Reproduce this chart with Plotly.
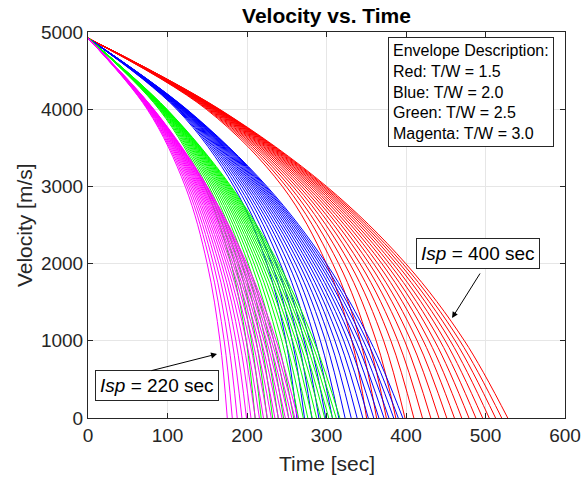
import plotly.graph_objects as go

# Velocity levels (m/s) at which each burn curve is sampled
v_levels = [4920, 4000, 3000, 2000, 1000, 0]

isp_values = [220, 230, 240, 250, 260, 270, 280, 290, 300, 310,
              320, 330, 340, 350, 360, 370, 380, 390, 400]

tw_ratios = [1.5, 2.0, 2.5, 3.0]
family_colors = ["#ff0000", "#0000ff", "#00ff00", "#ff00ff"]

# Time (s) at which velocity reaches 4000, 3000, 2000, 1000 and 0 m/s, one row per Isp
red_times = [
    [148.7, 244.5, 299.8, 331.9, 350.4],
    [150.2, 249.2, 307.8, 342.5, 363.0],
    [151.6, 253.6, 315.3, 352.6, 375.3],
    [152.9, 257.8, 322.5, 362.5, 387.2],
    [154.1, 261.7, 329.3, 371.9, 398.7],
    [155.3, 265.4, 335.9, 381.0, 409.9],
    [156.4, 268.9, 342.1, 389.7, 420.7],
    [157.4, 272.3, 348.1, 398.2, 431.2],
    [158.3, 275.4, 353.8, 406.3, 441.4],
    [159.2, 278.4, 359.3, 414.1, 451.3],
    [160.0, 281.3, 364.5, 421.7, 460.9],
    [160.8, 284.0, 369.6, 428.9, 470.1],
    [161.6, 286.6, 374.4, 436.0, 479.2],
    [162.3, 289.1, 379.0, 442.8, 487.9],
    [163.0, 291.5, 383.5, 449.3, 496.4],
    [163.6, 293.8, 387.8, 455.7, 504.7],
    [164.2, 296.0, 391.9, 461.8, 512.7],
    [164.8, 298.0, 395.9, 467.7, 520.4],
    [165.4, 300.0, 399.7, 473.5, 528.0],
]

blue_times = [
    [111.5, 183.4, 224.9, 248.9, 262.8],
    [112.7, 186.9, 230.9, 256.9, 272.3],
    [113.7, 190.2, 236.5, 264.5, 281.5],
    [114.7, 193.4, 241.9, 271.9, 290.4],
    [115.6, 196.3, 247.0, 278.9, 299.0],
    [116.5, 199.1, 251.9, 285.8, 307.4],
    [117.3, 201.7, 256.6, 292.3, 315.5],
    [118.1, 204.2, 261.1, 298.7, 323.4],
    [118.7, 206.6, 265.4, 304.7, 331.1],
    [119.4, 208.8, 269.5, 310.6, 338.5],
    [120.0, 211.0, 273.4, 316.3, 345.7],
    [120.6, 213.0, 277.2, 321.7, 352.6],
    [121.2, 215.0, 280.8, 327.0, 359.4],
    [121.7, 216.8, 284.3, 332.1, 365.9],
    [122.3, 218.6, 287.6, 337.0, 372.3],
    [122.7, 220.4, 290.9, 341.8, 378.5],
    [123.2, 222.0, 293.9, 346.4, 384.5],
    [123.6, 223.5, 296.9, 350.8, 390.3],
    [124.1, 225.0, 299.8, 355.1, 396.0],
]

green_times = [
    [89.2, 146.7, 179.9, 199.1, 210.2],
    [90.1, 149.5, 184.7, 205.5, 217.8],
    [91.0, 152.2, 189.2, 211.6, 225.2],
    [91.7, 154.7, 193.5, 217.5, 232.3],
    [92.5, 157.0, 197.6, 223.1, 239.2],
    [93.2, 159.2, 201.5, 228.6, 245.9],
    [93.8, 161.3, 205.3, 233.8, 252.4],
    [94.4, 163.4, 208.9, 238.9, 258.7],
    [95.0, 165.2, 212.3, 243.8, 264.8],
    [95.5, 167.0, 215.6, 248.5, 270.8],
    [96.0, 168.8, 218.7, 253.0, 276.5],
    [96.5, 170.4, 221.8, 257.3, 282.1],
    [97.0, 172.0, 224.6, 261.6, 287.5],
    [97.4, 173.5, 227.4, 265.7, 292.7],
    [97.8, 174.9, 230.1, 269.6, 297.8],
    [98.2, 176.3, 232.7, 273.4, 302.8],
    [98.5, 177.6, 235.1, 277.1, 307.6],
    [98.9, 178.8, 237.5, 280.6, 312.2],
    [99.2, 180.0, 239.8, 284.1, 316.8],
]

magenta_times = [
    [74.4, 122.3, 149.9, 166.0, 175.2],
    [75.1, 124.6, 153.9, 171.3, 181.5],
    [75.8, 126.8, 157.7, 176.3, 187.7],
    [76.5, 128.9, 161.3, 181.3, 193.6],
    [77.1, 130.9, 164.7, 186.0, 199.4],
    [77.7, 132.7, 168.0, 190.5, 205.0],
    [78.2, 134.5, 171.1, 194.9, 210.4],
    [78.7, 136.2, 174.1, 199.1, 215.6],
    [79.2, 137.7, 176.9, 203.2, 220.7],
    [79.6, 139.2, 179.7, 207.1, 225.7],
    [80.0, 140.7, 182.3, 210.9, 230.5],
    [80.4, 142.0, 184.8, 214.5, 235.1],
    [80.8, 143.3, 187.2, 218.0, 239.6],
    [81.2, 144.6, 189.5, 221.4, 244.0],
    [81.5, 145.8, 191.8, 224.7, 248.2],
    [81.8, 146.9, 193.9, 227.9, 252.4],
    [82.1, 148.0, 196.0, 230.9, 256.4],
    [82.4, 149.0, 198.0, 233.9, 260.2],
    [82.7, 150.0, 199.9, 236.8, 264.0],
]

x_ticks = [0, 100, 200, 300, 400, 500, 600]
y_ticks = [0, 1000, 2000, 3000, 4000, 5000]

envelope_lines = [
    "Envelope Description:",
    "Red: T/W = 1.5",
    "Blue: T/W = 2.0",
    "Green: T/W = 2.5",
    "Magenta: T/W = 3.0",
]

FONT = "Liberation Sans, Arial, Helvetica, sans-serif"
INK = "#262626"

fig = go.Figure()

families = [red_times, blue_times, green_times, magenta_times]
for tw, color, table in zip(tw_ratios, family_colors, families):
    for isp, row in zip(isp_values, table):
        fig.add_trace(go.Scatter(
            x=[0.0] + row,
            y=v_levels,
            mode="lines",
            line=dict(color=color, width=1, shape="spline", smoothing=1.0),
            name=f"T/W={tw}, Isp={isp}",
            hoverinfo="skip",
            showlegend=False,
        ))

axis_common = dict(
    showline=True, linecolor=INK, linewidth=1, mirror="ticks",
    ticks="inside", ticklen=5, tickcolor=INK, tickwidth=1,
    showgrid=True, gridcolor="#e6e6e6", gridwidth=1,
    zeroline=False, automargin=False,
    tickfont=dict(family=FONT, size=19, color=INK),
)

fig.update_xaxes(range=[0, 600], tickvals=x_ticks, **axis_common)
fig.update_yaxes(range=[0, 5000], tickvals=y_ticks, **axis_common)

annotations = [
    # axis titles
    dict(text="Time [sec]", xref="paper", yref="paper", x=0.5, y=-0.117,
         xanchor="center", yanchor="middle", showarrow=False,
         font=dict(family=FONT, size=21, color=INK)),
    dict(text="Velocity [m/s]", xref="paper", yref="paper", x=-0.134, y=0.5,
         xanchor="center", yanchor="middle", showarrow=False, textangle=-90,
         font=dict(family=FONT, size=21, color=INK)),
    # envelope description box
    dict(text="<br>".join(envelope_lines), xref="paper", yref="paper",
         x=0.629, y=0.987, xanchor="left", yanchor="top", align="left",
         showarrow=False, bgcolor="white", bordercolor=INK, borderwidth=1,
         borderpad=4, font=dict(family=FONT, size=16, color="black")),
    # Isp labels
    dict(text="<i>Isp</i> = 400 sec", xref="x", yref="y", x=490.6, y=2137,
         xanchor="center", yanchor="middle", showarrow=False,
         bgcolor="white", bordercolor=INK, borderwidth=1, borderpad=4,
         font=dict(family=FONT, size=19, color="black")),
    dict(text="<i>Isp</i> = 220 sec", xref="x", yref="y", x=86.5, y=427,
         xanchor="center", yanchor="middle", showarrow=False,
         bgcolor="white", bordercolor=INK, borderwidth=1, borderpad=4,
         font=dict(family=FONT, size=19, color="black")),
    # pointer arrows
    dict(text="", xref="x", yref="y", x=162.3, y=829,
         axref="x", ayref="y", ax=78.0, ay=609,
         showarrow=True, arrowhead=2, arrowsize=1.2, arrowwidth=1,
         arrowcolor="black", standoff=0, startstandoff=0),
    dict(text="", xref="x", yref="y", x=457.9, y=1295,
         axref="x", ayref="y", ax=494.3, ay=1891,
         showarrow=True, arrowhead=2, arrowsize=1.2, arrowwidth=1,
         arrowcolor="black", standoff=0, startstandoff=0),
]

fig.update_layout(
    width=585, height=480,
    margin=dict(l=88, r=20, t=32, b=62, autoexpand=False),
    paper_bgcolor="white", plot_bgcolor="white",
    title=dict(text="<b>Velocity vs. Time</b>", x=0.5, xref="paper",
               y=1 - 16 / 480, yref="container", yanchor="middle",
               xanchor="center",
               font=dict(family=FONT, size=21, color="black")),
    annotations=annotations,
    showlegend=False,
    hovermode=False,
)

fig.write_html("out.html")
